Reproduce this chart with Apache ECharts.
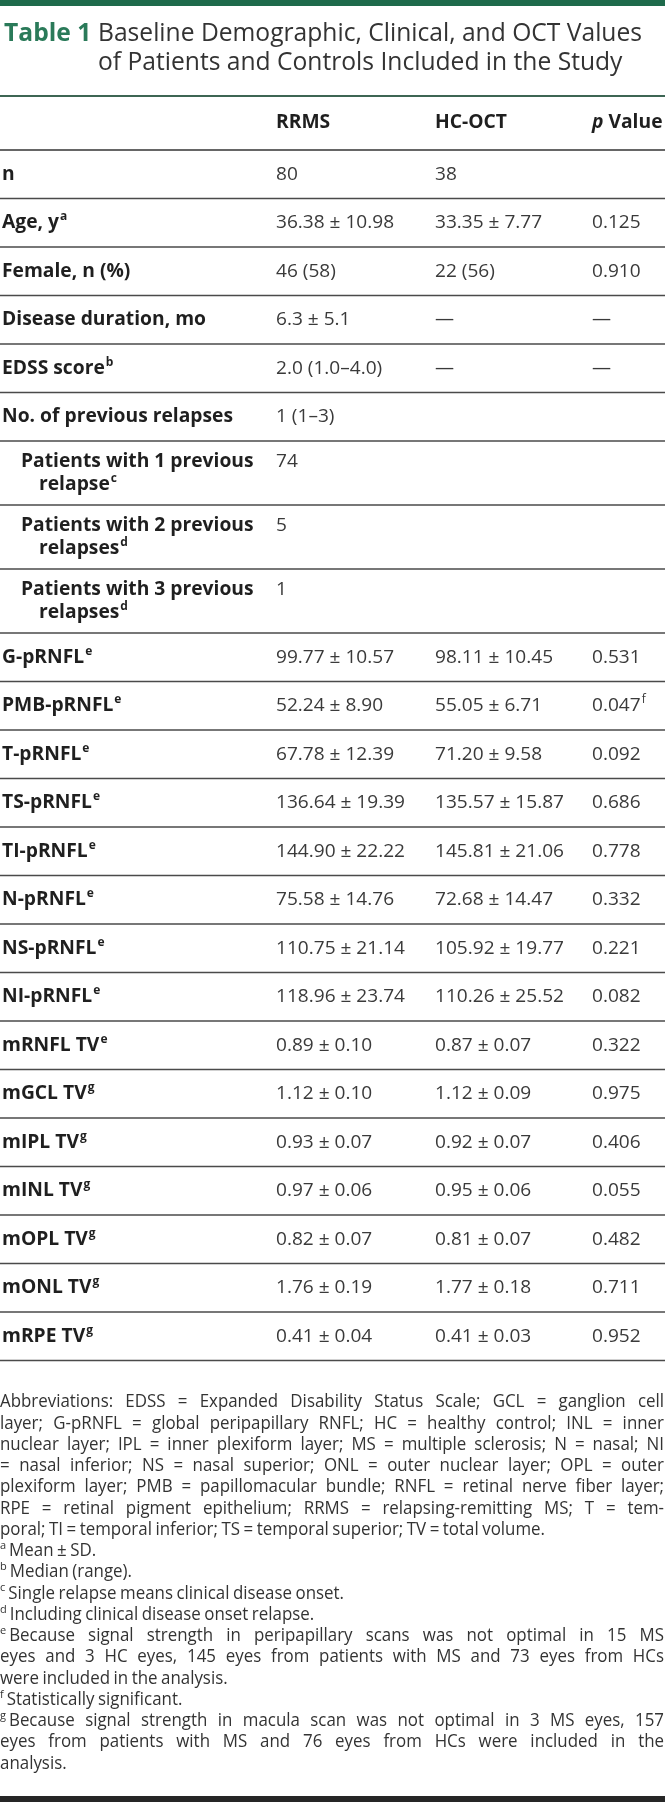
<!DOCTYPE html>
<html>
<head>
<meta charset="utf-8">
<script src="https://cdn.jsdelivr.net/npm/echarts@6.0.0/dist/echarts.min.js"></script>
<style>
html,body{margin:0;padding:0;background:#ffffff;}
#chart{width:665px;height:1802px;}
</style>
</head>
<body>
<div id="chart"></div>
<script>
// ---------------- data ----------------
const tableNumber = 'Table 1';
const titleLines = ['Baseline Demographic, Clinical, and OCT Values', 'of Patients and Controls Included in the Study'];
const columnHeaders = ['RRMS', 'HC-OCT', 'p Value'];
const rowLabels = ['n', 'Age, y', 'Female, n (%)', 'Disease duration, mo', 'EDSS score', 'No. of previous relapses',
  'Patients with 1 previous\nrelapse', 'Patients with 2 previous\nrelapses', 'Patients with 3 previous\nrelapses',
  'G-pRNFL', 'PMB-pRNFL', 'T-pRNFL', 'TS-pRNFL', 'TI-pRNFL', 'N-pRNFL', 'NS-pRNFL', 'NI-pRNFL',
  'mRNFL TV', 'mGCL TV', 'mIPL TV', 'mINL TV', 'mOPL TV', 'mONL TV', 'mRPE TV'];
const rowNotes = ['', 'a', '', '', 'b', '', 'c', 'd', 'd', 'e', 'e', 'e', 'e', 'e', 'e', 'e', 'e', 'e', 'g', 'g', 'g', 'g', 'g', 'g'];
const rowIsSub = [0, 0, 0, 0, 0, 0, 1, 1, 1, 0, 0, 0, 0, 0, 0, 0, 0, 0, 0, 0, 0, 0, 0, 0];
const rrmsValues = ['80', '36.38 ± 10.98', '46 (58)', '6.3 ± 5.1', '2.0 (1.0–4.0)', '1 (1–3)', '74', '5', '1',
  '99.77 ± 10.57', '52.24 ± 8.90', '67.78 ± 12.39', '136.64 ± 19.39', '144.90 ± 22.22', '75.58 ± 14.76',
  '110.75 ± 21.14', '118.96 ± 23.74', '0.89 ± 0.10', '1.12 ± 0.10', '0.93 ± 0.07', '0.97 ± 0.06',
  '0.82 ± 0.07', '1.76 ± 0.19', '0.41 ± 0.04'];
const hcOctValues = ['38', '33.35 ± 7.77', '22 (56)', '—', '—', '', '', '', '',
  '98.11 ± 10.45', '55.05 ± 6.71', '71.20 ± 9.58', '135.57 ± 15.87', '145.81 ± 21.06', '72.68 ± 14.47',
  '105.92 ± 19.77', '110.26 ± 25.52', '0.87 ± 0.07', '1.12 ± 0.09', '0.92 ± 0.07', '0.95 ± 0.06',
  '0.81 ± 0.07', '1.77 ± 0.18', '0.41 ± 0.03'];
const pValues = ['', '0.125', '0.910', '—', '—', '', '', '', '',
  '0.531', '0.047', '0.092', '0.686', '0.778', '0.332', '0.221', '0.082', '0.322',
  '0.975', '0.406', '0.055', '0.482', '0.711', '0.952'];
const pValueNotes = ['', '', '', '', '', '', '', '', '', '', 'f', '', '', '', '', '', '', '', '', '', '', '', '', ''];
const footnoteMarks = ['', '', '', '', '', '', '', 'a', 'b', 'c', 'd', 'e', '', '', 'f', 'g', '', ''];
const footnoteLines = [
  'Abbreviations: EDSS = Expanded Disability Status Scale; GCL = ganglion cell',
  'layer; G-pRNFL = global peripapillary RNFL; HC = healthy control; INL = inner',
  'nuclear layer; IPL = inner plexiform layer; MS = multiple sclerosis; N = nasal; NI',
  '= nasal inferior; NS = nasal superior; ONL = outer nuclear layer; OPL = outer',
  'plexiform layer; PMB = papillomacular bundle; RNFL = retinal nerve fiber layer;',
  'RPE = retinal pigment epithelium; RRMS = relapsing-remitting MS; T = tem-',
  'poral; TI = temporal inferior; TS = temporal superior; TV = total volume.',
  'Mean ± SD.',
  'Median (range).',
  'Single relapse means clinical disease onset.',
  'Including clinical disease onset relapse.',
  'Because signal strength in peripapillary scans was not optimal in 15 MS',
  'eyes and 3 HC eyes, 145 eyes from patients with MS and 73 eyes from HCs',
  'were included in the analysis.',
  'Statistically significant.',
  'Because signal strength in macula scan was not optimal in 3 MS eyes, 157',
  'eyes from patients with MS and 76 eyes from HCs were included in the',
  'analysis.'
];
const footnoteJustified = [1, 1, 1, 1, 1, 1, 0, 0, 0, 0, 0, 1, 1, 0, 0, 1, 1, 0];

// ---------------- layout / style ----------------
const W = 665;
const FF = '"Open Sans", "Noto Sans", sans-serif';
const L = {
  titleX: 4, titleX2: 98, titleY1: 34, titleY2: 63,
  tableTop: 96, headerH: 54, rowH: 48.5, row2H: 64, lineGap: 23,
  colX: [2, 276, 435, 592], subIndent: 21, wrapIndent: 39,
  footTop: 1402, footStep: 21.25, footRight: 664, bottomBarY: 1796
};
const FS = { title: 25.5, body: 19, sup: 12, foot: 18.5, footSup: 11 };
const C = { green: '#2a7a59', bar: '#1e6a4b', title: '#333333', label: '#1f1f1f', value: '#3a3a3a', line: '#4a4a4a', foot: '#333333' };
const FOOT_SPACE = 0.8; // relative width of a word space in the notes

const mctx = document.createElement('canvas').getContext('2d');
function textW(str, size, weight, style) {
  mctx.font = (style || 'normal') + ' ' + (weight || 'normal') + ' ' + size + 'px ' + FF;
  return mctx.measureText(str).width;
}
function spacedW(str, size) {
  const words = str.split(' ');
  return words.reduce((a, w) => a + textW(w, size), 0) + (words.length - 1) * textW(' ', size) * FOOT_SPACE;
}
const SX = {
  title: 544 / textW(titleLines[0], FS.title),
  label: 204 / textW('Disease duration, mo', FS.body, 'bold'),
  value: 129 / textW('136.64 ± 19.39', FS.body),
  foot: 545 / spacedW(footnoteLines[6], FS.foot)
};

// row geometry (derived from the row structure)
const rowHeights = rowLabels.map(l => l.indexOf('\n') >= 0 ? L.row2H : L.rowH);
const tableData = [[0, 0, L.headerH]];
let acc = L.headerH;
rowHeights.forEach((h, i) => { tableData.push([i + 1, acc, acc + h]); acc += h; });
const tableH = acc;

function txt(x, y, s, size, weight, fill, sx, fontStyle) {
  return {
    type: 'text', x: x, y: y, scaleX: sx || 1,
    style: { text: s, x: 0, y: 0, fontSize: size, fontFamily: FF, fontWeight: weight || 'normal', fontStyle: fontStyle || 'normal', fill: fill, align: 'left', verticalAlign: 'middle' }
  };
}
function withSup(children, x, y, s, note, size, weight, fill, sx) {
  children.push(txt(x, y, s, size, weight, fill, sx));
  if (note) {
    const w = textW(s, size, weight) * sx;
    children.push(txt(x + w + 1, y - 6, note, FS.sup, weight, fill, 1));
  }
}

function renderItem(params, api) {
  const i = api.value(0);
  const y0 = api.coord([0, api.value(1)])[1];
  const y1 = api.coord([0, api.value(2)])[1];
  const xl = api.coord([0, 0])[0];
  const xr = api.coord([W, 0])[0];
  const children = [];
  const cy = (y0 + y1) / 2;
  if (i === 0) {
    children.push({ type: 'line', shape: { x1: xl, y1: y0, x2: xr, y2: y0 }, style: { stroke: '#3d6553', lineWidth: 2 } });
    children.push(txt(L.colX[1], cy, columnHeaders[0], FS.body, 'bold', C.label, SX.label));
    children.push(txt(L.colX[2], cy, columnHeaders[1], FS.body, 'bold', C.label, SX.label));
    const pPart = columnHeaders[2].split(' ');
    children.push(txt(L.colX[3], cy, pPart[0], FS.body, 'bold', C.label, SX.label, 'italic'));
    const pw = textW(pPart[0] + ' ', FS.body, 'bold', 'italic') * SX.label;
    children.push(txt(L.colX[3] + pw, cy, pPart.slice(1).join(' '), FS.body, 'bold', C.label, SX.label));
    children.push({ type: 'line', shape: { x1: xl, y1: y1, x2: xr, y2: y1 }, style: { stroke: '#333', lineWidth: 1.6 } });
  } else {
    const r = i - 1;
    const lines = rowLabels[r].split('\n');
    const firstY = cy - (lines.length - 1) * L.lineGap / 2;
    lines.forEach((ln, k) => {
      const lx = rowIsSub[r] ? (k === 0 ? L.subIndent : L.wrapIndent) : L.colX[0];
      const note = k === lines.length - 1 ? rowNotes[r] : '';
      withSup(children, lx, firstY + k * L.lineGap, ln, note, FS.body, 'bold', C.label, SX.label);
    });
    if (rrmsValues[r]) children.push(txt(L.colX[1], firstY, rrmsValues[r], FS.body, 'normal', C.value, SX.value));
    if (hcOctValues[r]) children.push(txt(L.colX[2], firstY, hcOctValues[r], FS.body, 'normal', C.value, SX.value));
    if (pValues[r]) withSup(children, L.colX[3], firstY, pValues[r], pValueNotes[r], FS.body, 'normal', C.value, SX.value);
    children.push({ type: 'line', shape: { x1: xl, y1: y1, x2: xr, y2: y1 }, style: { stroke: C.line, lineWidth: 1.6 } });
  }
  return { type: 'group', children: children };
}

// ---------------- static decorations (title, notes) ----------------
const graphics = [];
graphics.push({ type: 'rect', shape: { x: 0, y: 0, width: W, height: 6 }, style: { fill: C.bar } });
graphics.push(txt(L.titleX, L.titleY1, tableNumber, FS.title, 'bold', C.green, SX.title));
graphics.push(txt(L.titleX2, L.titleY1, titleLines[0], FS.title, 'normal', C.title, SX.title));
graphics.push(txt(L.titleX2, L.titleY2, titleLines[1], FS.title, 'normal', C.title, SX.title));

footnoteLines.forEach((line, k) => {
  const y = L.footTop + k * L.footStep;
  let x = 0;
  if (footnoteMarks[k]) {
    graphics.push(txt(0, y - 5, footnoteMarks[k], FS.footSup, 'normal', C.foot, 1));
    x = textW(footnoteMarks[k], FS.footSup) + 3;
  }
  const words = line.split(' ');
  const ws = words.map(w => textW(w, FS.foot) * SX.foot);
  const total = ws.reduce((a, b) => a + b, 0);
  const gap = footnoteJustified[k]
    ? (L.footRight - x - total) / (words.length - 1)
    : textW(' ', FS.foot) * FOOT_SPACE * SX.foot;
  let cx = x;
  words.forEach((w, j) => {
    graphics.push(txt(cx, y, w, FS.foot, 'normal', C.foot, SX.foot));
    cx += ws[j] + gap;
  });
});
graphics.push({ type: 'rect', shape: { x: 0, y: L.bottomBarY, width: W, height: 6 }, style: { fill: '#262626' } });

const chart = echarts.init(document.getElementById('chart'), null, { renderer: 'canvas' });
chart.setOption({
  animation: false,
  backgroundColor: '#ffffff',
  grid: { left: 0, right: 0, top: L.tableTop, height: tableH },
  xAxis: { type: 'value', min: 0, max: W, show: false },
  yAxis: { type: 'value', min: 0, max: tableH, inverse: true, show: false },
  series: [{
    type: 'custom', coordinateSystem: 'cartesian2d', renderItem: renderItem,
    data: tableData, clip: false, silent: true
  }],
  graphic: graphics
});
</script>
</body>
</html>
